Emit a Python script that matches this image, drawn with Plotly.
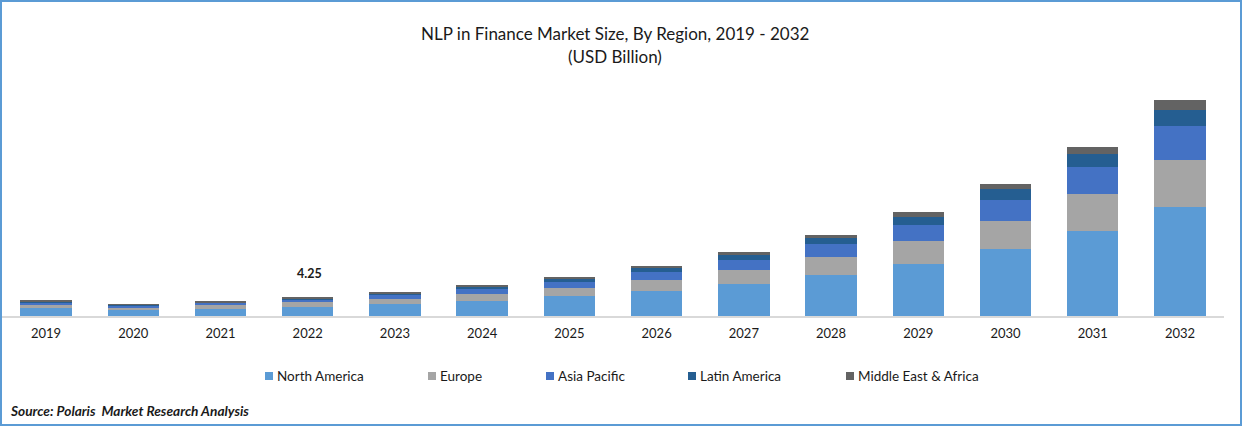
import plotly.graph_objects as go

W, H = 1242, 426

years = ["2019", "2020", "2021", "2022", "2023", "2024", "2025", "2026", "2027", "2028", "2029", "2030", "2031", "2032"]
north_america = [1.79, 1.34, 1.57, 2.01, 2.68, 3.36, 4.47, 5.59, 7.16, 9.17, 11.63, 14.99, 19.02, 24.38]
europe = [0.67, 0.45, 0.89, 1.12, 1.12, 1.57, 1.79, 2.46, 3.13, 4.03, 5.15, 6.26, 8.28, 10.51]
asia_pacific = [0.67, 0.45, 0.45, 0.67, 0.89, 1.12, 1.34, 1.79, 2.24, 2.91, 3.58, 4.70, 6.04, 7.61]
latin_america = [0.22, 0.22, 0.22, 0.22, 0.45, 0.45, 0.89, 0.89, 1.12, 1.34, 1.79, 2.46, 2.91, 3.58]
middle_east_africa = [0.22, 0.22, 0.22, 0.23, 0.22, 0.45, 0.22, 0.45, 0.67, 0.67, 1.12, 1.12, 1.57, 2.24]

series_names = ["North America", "Europe", "Asia Pacific", "Latin America", "Middle East & Africa"]
series_values = [north_america, europe, asia_pacific, latin_america, middle_east_africa]
series_colors = ["#5B9BD5", "#A5A5A5", "#4472C4", "#255E91", "#636363"]
labelled_year = "2022"
labelled_text = "4.25"

FONT = "Lato, 'Open Sans', sans-serif"
INK = "#1a1a1a"

fig = go.Figure()
for name, values, color in zip(series_names, series_values, series_colors):
    fig.add_bar(x=years, y=values, name=name, marker=dict(color=color, line=dict(width=0)), width=0.59, showlegend=False)

# plot rectangle in picture pixels
x0, x1, y_top, y_base = 2.4, 1223.6, 80, 316
label_index = years.index(labelled_year)
label_total = sum(s[label_index] for s in series_values)


def note(px, py, text, size, anchor="center"):
    return dict(xref="paper", yref="paper", x=px / W, y=1 - py / H, xanchor=anchor, yanchor="middle", text=text,
                showarrow=False, font=dict(size=size, color=INK, family=FONT))


annotations = [
    dict(xref="x", yref="y", x=label_index, y=label_total, yshift=24, xshift=2, xanchor="center", yanchor="middle",
         text=f"<b>{labelled_text}</b>", showarrow=False, font=dict(size=12.5, color=INK, family=FONT)),
    note(615, 33, "NLP in Finance Market Size, By Region, 2019 - 2032", 17),
    note(615, 56, "(USD Billion)", 17),
    note(8, 410, "<b><i>Source: Polaris  Market Research Analysis</i></b>", 13.7, "left"),
]

# legend row
legend_swatch_x = [265, 428, 546, 688, 846]
shapes = [dict(type="rect", xref="paper", yref="paper", x0=0, x1=1, y0=0, y1=1,
               line=dict(color="#5B9BD5", width=4), fillcolor="rgba(0,0,0,0)", layer="above")]
for name, color, sx in zip(series_names, series_colors, legend_swatch_x):
    shapes.append(dict(type="rect", xref="paper", yref="paper", x0=sx / W, x1=(sx + 8) / W,
                       y0=1 - 380 / H, y1=1 - 372 / H, fillcolor=color, line=dict(width=0)))
    annotations.append(note(sx + 10, 376, name, 13.5, "left"))

fig.update_layout(
    barmode="stack", width=W, height=H, autosize=False,
    margin=dict(l=0, r=0, t=0, b=0),
    paper_bgcolor="white", plot_bgcolor="white",
    font=dict(family=FONT, color=INK),
    xaxis=dict(domain=[x0 / W, x1 / W], type="category", categoryorder="array", categoryarray=years,
               range=[-0.5, len(years) - 0.5], autorange=False,
               showgrid=False, zeroline=False, showline=True, linecolor="#D9D9D9", linewidth=1.5,
               ticks="outside", ticklen=5, tickcolor="rgba(0,0,0,0)", tickfont=dict(size=13, color=INK, family=FONT),
               anchor="y", fixedrange=True),
    yaxis=dict(domain=[1 - y_base / H, 1 - y_top / H], range=[0, (y_base - y_top) / 4.47], visible=False, fixedrange=True),
    annotations=annotations, shapes=shapes, showlegend=False,
)
fig.write_html("out.html", config={"displayModeBar": False},
               post_script="document.body.style.margin='0';document.documentElement.style.overflow='hidden';")
